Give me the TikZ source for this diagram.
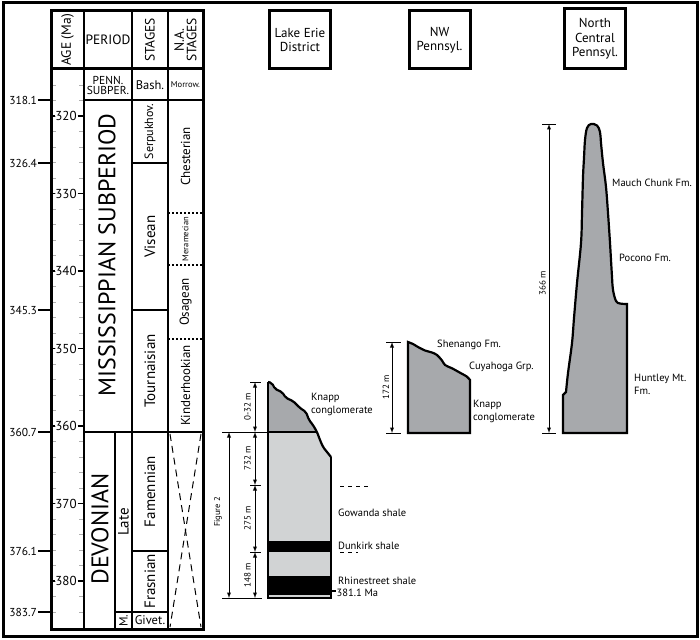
\documentclass[tikz,border=0pt]{standalone}
\usepackage{fontspec}
\setmainfont{PT Sans}
\usepackage{tikz}

\definecolor{knappgray}{RGB}{167,169,172}
\definecolor{shalegray}{RGB}{209,211,212}
\definecolor{tickgray}{RGB}{175,175,175}

\newcommand{\fsz}[1]{\fontsize{#1}{#1}\selectfont}

\begin{document}
\begin{tikzpicture}[x=1pt,y=-1pt,>=latex,
    outerframe/.style={line width=3pt},
    colline/.style={line width=2.2pt},
    thinline/.style={line width=1.4pt},
    cell/.style={inner sep=0pt,font=\fsz{15}},
    vcell/.style={cell,rotate=90},
    sitebox/.style={draw,line width=3pt,minimum width=61pt,minimum height=58pt,
        align=center,inner sep=0pt,font=\fontsize{13}{14.5}\selectfont},
    fm/.style={anchor=west,align=left,inner sep=0pt,font=\fontsize{10.5}{13}\selectfont},
    dimarrow/.style={<->,line width=0.9pt},
    dimtick/.style={line width=0.9pt},
    dimlbl/.style={rotate=90,inner sep=0pt,font=\fsz{9}}]

    \useasboundingbox (0,0) rectangle (700,639);
    \draw[outerframe] (3,3) rectangle (697,636); % рамка

    % шкала возраста слева
    \foreach \a/\y in {318.1/100,326.4/163,345.3/310,360.7/432,376.1/551,383.7/612}{
        \node[anchor=east,inner sep=0pt,font=\fsz{11.5}] (age\a) at (37,\y) {\a};
        \draw[colline] (38,\y) -- (51,\y);
    }

    % мелкие деления
    \foreach \a in {316,318,...,384}{
        \draw[tickgray,line width=0.9pt] (52,{116+(\a-320)*7.75}) -- ++(4,0);
        \draw[tickgray,line width=0.9pt] (79,{116+(\a-320)*7.75}) -- ++(4,0);
    }
    \foreach \a in {320,330,...,380}{
        \node[inner sep=0pt,font=\fsz{13}] (ma\a) at (66,{116+(\a-320)*7.75}) {\a};
        \draw[thinline] (52,{116+(\a-320)*7.75}) -- ++(3,0);
        \draw[thinline] (77.5,{116+(\a-320)*7.75}) -- ++(6,0);
    }

    % таблица
    \draw[colline] (84,11) -- (84,629);
    \draw[colline] (132,11) -- (132,629);
    \draw[colline] (168,11) -- (168,629);
    \draw[outerframe] (51,69) -- (203,69);
    \draw[thinline] (84,100) -- (203,100);
    \draw[colline] (84,432) -- (203,432);
    \draw[thinline] (115,432) -- (115,629);
    \draw[thinline] (115,612) -- (168,612);
    \draw[colline] (132,163) -- (168,163);
    \draw[colline] (132,310) -- (168,310);
    \draw[colline] (132,551) -- (168,551);
    \draw[line width=2.2pt,dash pattern=on 2pt off 2pt] (168,213) -- (203,213);
    \draw[line width=2.2pt,dash pattern=on 2pt off 2pt] (168,265) -- (203,265);
    \draw[line width=2.2pt,dash pattern=on 2pt off 2pt] (168,339) -- (203,339);
    \draw[line width=1pt,dash pattern=on 7pt off 5pt] (170,434) -- (201,627);
    \draw[line width=1pt,dash pattern=on 7pt off 5pt] (201,434) -- (170,627);
    \draw[outerframe] (51,11) rectangle (203,629);

    % заголовки
    \node[vcell,font=\fsz{13.5}] (hage) at (67.5,40) {AGE (Ma)};
    \node[cell,font=\fsz{13.5}] (hper) at (108,40) {PERIOD};
    \node[vcell,font=\fsz{13.5}] (hst) at (150,40) {STAGES};
    \node[vcell,align=center,font=\fontsize{13.5}{12.5}\selectfont] (hna) at (185.5,40) {N.A.\\STAGES};

    \node[cell,align=center,font=\fontsize{11.5}{10}\selectfont] (penn) at (108,85) {PENN.\\SUBPER.};
    \node[cell,font=\fsz{12.5}] (bash) at (150,85) {Bash.};
    \node[cell,font=\fsz{8.5}] (morrow) at (185.5,85) {Morrow.};

    \node[vcell,font=\fsz{24}] (miss) at (107,255) {MISSISSIPPIAN SUBPERIOD};
    \node[vcell,font=\fsz{24}] (dev) at (100,529) {DEVONIAN};
    \node[vcell] (late) at (123.5,522) {Late};
    \node[vcell,font=\fsz{12}] (mid) at (123.5,620.5) {M.};

    \node[vcell,font=\fsz{12}] (serp) at (150,131.5) {Serpukhov.};
    \node[vcell] (vis) at (150,236.5) {Visean};
    \node[vcell] (tour) at (150,371) {Tournaisian};
    \node[vcell] (fam) at (150,491.5) {Famennian};
    \node[vcell] (fras) at (150,581.5) {Frasnian};
    \node[cell,font=\fsz{12.5}] (giv) at (150,620.5) {Givet.};

    \node[vcell,font=\fsz{13}] (chest) at (185.5,156.5) {Chesterian};
    \node[vcell,font=\fsz{8.5}] (mera) at (185.5,239) {Meramecian};
    \node[vcell,font=\fsz{13}] (osag) at (185.5,302) {Osagean};
    \node[vcell,font=\fsz{13}] (kind) at (185.5,385.5) {Kinderhookian};

    % районы
    \node[sitebox] (lake) at (300,40) {Lake Erie\\District};
    \node[sitebox] (nwp) at (439.5,40) {NW\\Pennsyl.};
    \node[sitebox,minimum height=60pt] (ncp) at (595,39) {North\\Central\\Pennsyl.};

    % Lake Erie District
    \fill[knappgray] (268,382) -- (272,383) -- (275,389) -- (282,392) -- (286,398) -- (293,401)
        -- (300,408) -- (306,412) -- (309,420) -- (313,425) -- (317,432) -- (268,432) -- cycle;
    \fill[shalegray] (317,432) -- (320,440) -- (323,447) -- (327,452) -- (331,457)
        -- (331,598) -- (268,598) -- (268,432) -- cycle;
    \fill (268,541) rectangle (331,552); % Dunkirk
    \fill (268,576) rectangle (331,595); % Rhinestreet
    \draw[colline] (268,432) -- (317,432);
    \draw[colline,rounded corners=2pt] (268,382) -- (272,383) -- (275,389) -- (282,392) -- (286,398)
        -- (293,401) -- (300,408) -- (306,412) -- (309,420) -- (313,425) -- (317,432) -- (320,440)
        -- (323,447) -- (327,452) -- (331,457);
    \draw[colline] (331,457) -- (331,598) -- (268,598) -- (268,382);

    \coordinate (le0) at (255,382);
    \coordinate (le1) at (255,432);
    \coordinate (le2) at (255,485);
    \coordinate (le3) at (255,552);
    \coordinate (le4) at (255,598);
    \coordinate (fg0) at (229,432);
    \coordinate (fg1) at (229,598);
    \draw[dimtick] (250,382) -- (261,382);
    \draw[dimtick] (222,432) -- (268,432);
    \draw[dimtick] (250,485) -- (261,485);
    \draw[dimtick] (250,552) -- (261,552);
    \draw[dimtick] (222,598) -- (262,598);
    \draw[dimarrow] (le0) -- (le1);
    \draw[dimarrow] (le1) -- (le2);
    \draw[dimarrow] (le2) -- (le3);
    \draw[dimarrow] (le3) -- (le4);
    \draw[dimarrow] (fg0) -- (fg1);
    \node[dimlbl] (t032) at (247.5,407) {0-32 m};
    \node[dimlbl] (t732) at (247.5,458.5) {732 m};
    \node[dimlbl] (t275) at (247.5,518.5) {275 m};
    \node[dimlbl] (t148) at (247.5,575) {148 m};
    \node[dimlbl,font=\fsz{8.5}] (fig2) at (218,512) {Figure 2};

    \node[fm] (knapp1) at (311,404) {Knapp\\conglomerate};
    \draw[line width=0.8pt,dash pattern=on 4pt off 4pt] (340,486) -- (370,486);
    \node[fm] (gow) at (338,512.5) {Gowanda shale};
    \node[fm] (dunk) at (338,545.5) {Dunkirk shale};
    \draw[line width=0.8pt,dash pattern=on 4pt off 4pt] (340,552) -- (358,552);
    \node[fm] (rhine) at (338,581) {Rhinestreet shale};
    \node[fm] (ma381) at (336.5,593) {381.1 Ma};
    \draw[thinline] (331,591) -- (336,591);

    % NW Pennsyl.
    \draw[colline,fill=knappgray] (408,433) -- (408,342) -- plot[smooth,tension=0.5] coordinates {
        (408,342) (413,344) (418,347) (425,350.5) (432,352.5) (437,355) (442,360.5) (445,365)
        (452,368.3) (460,372.7) (467,376.7) (470,380)} -- (470,433) -- cycle;
    \coordinate (nw0) at (392,342);
    \coordinate (nw1) at (392,433);
    \draw[dimtick] (386,342) -- (401,342);
    \draw[dimtick] (386,433) -- (401,433);
    \draw[dimarrow] (nw0) -- (nw1);
    \node[dimlbl] (t172) at (386,387) {172 m};

    \node[fm] (shen) at (437,345) {Shenango Fm.};
    \node[fm] (cuya) at (469,367) {Cuyahoga Grp.};
    \node[fm] (knapp2) at (473,411) {Knapp\\conglomerate};

    % North Central Pennsyl.
    \draw[colline,fill=knappgray] (563,433) -- (563,395) -- plot[smooth,tension=0.6] coordinates {
        (566,392) (568,373) (572,343) (574,318) (577,283) (581,243) (582,213) (583,177) (584,158)
        (585,140) (587,128) (591,124) (597,125.5) (600,132) (601,143) (603,163) (606,187)
        (608,213) (610,243) (612,277) (613,290) (616,301) (620,303.5) (627,304)}
        -- (627,433) -- cycle;
    \coordinate (nc0) at (549,124);
    \coordinate (nc1) at (549,433);
    \draw[dimtick] (542,124) -- (556,124);
    \draw[dimtick] (542,433) -- (556,433);
    \draw[dimarrow] (nc0) -- (nc1);
    \node[dimlbl] (t366) at (542.5,283) {366 m};

    \node[fm] (mauch) at (612,183) {Mauch Chunk Fm.};
    \node[fm] (poco) at (619,258) {Pocono Fm.};
    \node[fm] (hunt) at (634,384) {Huntley Mt.\\Fm.};
\end{tikzpicture}
\end{document}
